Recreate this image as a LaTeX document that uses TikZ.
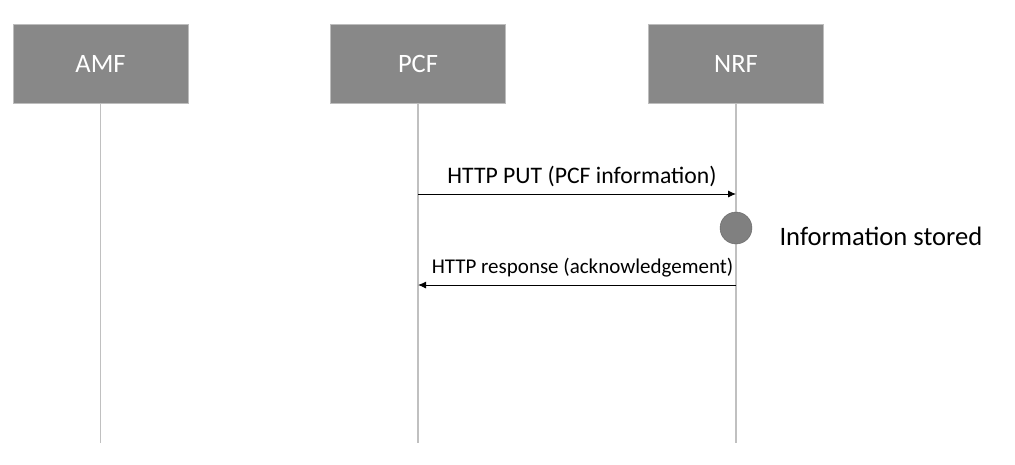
\documentclass[tikz,border=0pt]{standalone}
\usepackage{fontspec}
\setmainfont{Carlito}
\usepackage{tikz}
\usetikzlibrary{arrows.meta}
\definecolor{boxgray}{HTML}{888888}
\definecolor{boxedge}{HTML}{BDBDBD}
\definecolor{lifegray}{HTML}{C0C0C0}
\definecolor{dotgray}{HTML}{808080}
\tikzset{
  entity/.style={draw=boxedge,fill=boxgray,line width=1pt,minimum width=175pt,minimum height=79pt,text=white,font=\fontsize{26.5}{30}\selectfont},
  lifeline/.style={draw=lifegray,line width=1.5pt},
  msg/.style={draw=black,line width=0.9pt,-{Latex[length=8pt,width=7pt]}}
}
\begin{document}
\begin{tikzpicture}[x=1pt,y=-1pt]
\useasboundingbox (0,0) rectangle (1015,464);
% entities
\node [entity] (amf) at (100.5,63.5) {AMF};
\node [entity] (pcf) at (418,63.5) {PCF};
\node [entity] (nrf) at (736,63.5) {NRF};
% lifelines
\coordinate (amfEnd) at (100.5,443);
\coordinate (pcfEnd) at (418,443);
\coordinate (nrfEnd) at (736,443);
\draw [lifeline] (amf.south) -- (amfEnd);
\draw [lifeline] (pcf.south) -- (pcfEnd);
\draw [lifeline] (nrf.south) -- (nrfEnd);
% messages
\coordinate (putFrom) at (418,194);
\coordinate (putTo) at (736,194);
\coordinate (ackFrom) at (736,285);
\coordinate (ackTo) at (418,285);
\draw [msg] (putFrom) -- node [above=3pt,xshift=5pt,font=\fontsize{23.7}{28}\selectfont] (putLabel) {HTTP PUT (PCF information)} (putTo);
\node [draw=black!60,fill=dotgray,circle,minimum size=32pt,inner sep=0pt] (store) at (736,228) {};
\node [anchor=west,font=\fontsize{26.6}{30}\selectfont] (storeLabel) at (776,236) {Information stored};
\draw [msg] (ackFrom) -- node [above=4pt,xshift=5.5pt,font=\fontsize{21}{25}\selectfont] (ackLabel) {HTTP response (acknowledgement)} (ackTo);
\end{tikzpicture}
\end{document}
